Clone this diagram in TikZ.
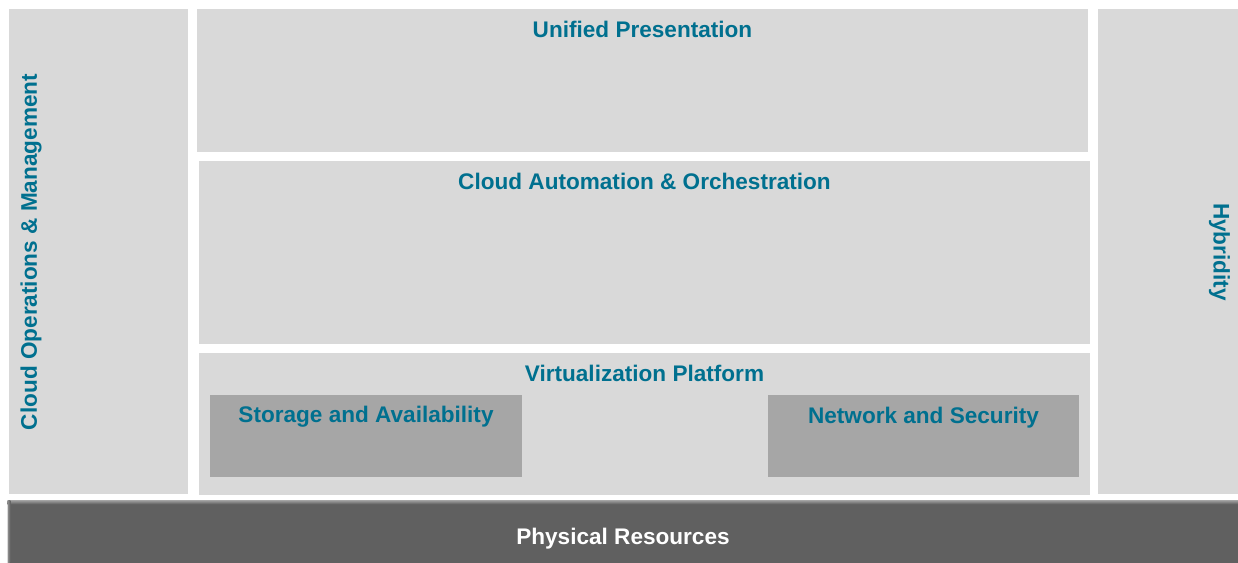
\documentclass[tikz,border=0pt]{standalone}
\usepackage{fontspec}
\setmainfont{Liberation Sans}
\usetikzlibrary{positioning,fit}

\definecolor{panelgray}{HTML}{D9D9D9}
\definecolor{subgray}{HTML}{A6A6A6}
\definecolor{basegray}{HTML}{606060}
\definecolor{bevelgray}{HTML}{9A9A9A}
\definecolor{titleblue}{HTML}{00708F}

\tikzset{
  panel/.style={fill=panelgray, inner sep=0pt},
  subpanel/.style={fill=subgray, inner sep=0pt},
  basebar/.style={fill=basegray, inner sep=0pt},
  title/.style={text=titleblue, font=\bfseries\fontsize{12.85}{14}\selectfont, inner sep=0pt},
}

\begin{document}
\begin{tikzpicture}[x=0.02cm,y=-0.02cm]
  \useasboundingbox (0,0) rectangle (1238,563);

  % side columns
  \node[panel, fit={(9,9) (188,494)}] (ops) {};
  \node[panel, fit={(1098,9) (1238,494)}] (hybrid) {};
  \node[title, rotate=90] (opstitle) at (31,252) {Cloud Operations \& Management};
  \node[title, rotate=-90] (hybridtitle) at (1219.5,252) {Hybridity};

  % middle layers
  \node[panel, fit={(197,9) (1088,152)}] (unified) {};
  \node[panel, fit={(199,161) (1090,344)}] (automation) {};
  \node[panel, fit={(199,353) (1090,495)}] (virt) {};
  \node[title, below=7pt of unified.north] (unifiedtitle) {Unified Presentation};
  \node[title, below=7pt of automation.north] (automationtitle) {Cloud Automation \& Orchestration};
  \node[title, below=6.8pt of virt.north] (virttitle) {Virtualization Platform};

  \node[subpanel, fit={(210,395) (522,477)}] (storage) {};
  \node[subpanel, fit={(768,395) (1079,477)}] (network) {};
  \node[title, below=6.6pt of storage.north] (storagetitle) {Storage and Availability};
  \node[title, below=6.8pt of network.north] (networktitle) {Network and Security};

  % physical layer
  \node[basebar, fit={(8,501) (1238,563)}] (physical) {};
  \shade[top color=bevelgray, bottom color=basegray] (physical.north west) rectangle ([yshift=-2pt]physical.north east);
  \shade[left color=bevelgray!80!basegray, right color=basegray] (physical.north west) rectangle ([xshift=1.5pt]physical.south west);
  \node[title, text=white, yshift=-3.6pt] (physicaltitle) at (physical.center) {Physical Resources};
\end{tikzpicture}
\end{document}
